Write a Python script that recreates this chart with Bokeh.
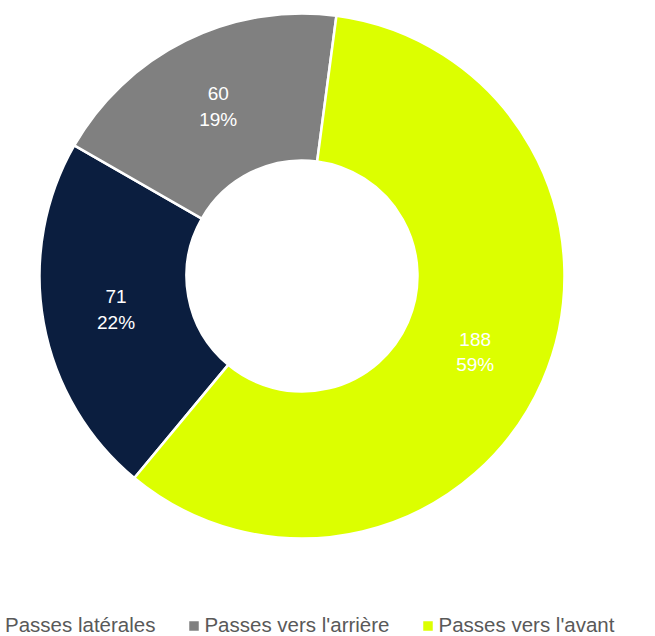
import math
import numpy as np
from bokeh.plotting import figure
from bokeh.models import Range1d, Legend, LegendItem, ColumnDataSource
from bokeh.core.properties import value
from bokeh.embed import file_html
from bokeh.resources import INLINE

# ---- data ----
categories = ["Passes latérales", "Passes vers l'arrière", "Passes vers l'avant"]
counts = [71, 60, 188]
colors = ["#0b1e3f", "#808080", "#dcff00"]

# ---- layout constants ----
W, H = 655, 636
cx, cy = 301.5, H - 275.5
r_in, r_out = 115.5, 262.5
start_cw_deg = 219.7  # clockwise from 12 o'clock

p = figure(width=W, height=H, x_range=Range1d(0, W), y_range=Range1d(0, H),
           output_backend="svg", toolbar_location=None, min_border=0)
p.axis.visible = False
p.grid.visible = False
p.outline_line_color = None
p.background_fill_color = "white"

total = float(sum(counts))
fr = np.array(counts) / total
cw_edges = start_cw_deg + np.concatenate([[0], np.cumsum(fr)]) * 360.0

items = []
lx, ly, lt = [], [], []
for i, (cat, n, col) in enumerate(zip(categories, counts, colors)):
    a0 = math.radians(90 - cw_edges[i])
    a1 = math.radians(90 - cw_edges[i + 1])
    src = ColumnDataSource(dict(x=[cx], y=[cy]))
    r = p.annular_wedge(x="x", y="y", inner_radius=r_in, outer_radius=r_out,
                        start_angle=a0, end_angle=a1, direction="clock",
                        fill_color=col, line_color="white", line_width=2.5,
                        source=src)
    items.append(LegendItem(label=cat, renderers=[r]))
    mid = math.radians(90 - (cw_edges[i] + cw_edges[i + 1]) / 2)
    rm = (r_in + r_out) / 2
    lx.append(cx + rm * math.cos(mid))
    ly.append(cy + rm * math.sin(mid))
    lt.append(f"{n}\n{round(100 * n / total)}%")

p.text(x=lx, y=ly, text=lt, text_align="center", text_baseline="middle",
       text_color="white", text_font=value("Liberation Sans"),
       text_font_size="19px", text_line_height=1.2)

legend = Legend(items=items, orientation="horizontal", location=(-13, -1),
                glyph_width=15, glyph_height=15, label_standoff=3, spacing=31,
                padding=0, margin=0, border_line_alpha=0, background_fill_alpha=0,
                label_text_font="Liberation Sans", label_text_font_size="20.5px",
                label_text_color="#595959")
p.add_layout(legend)

open("out.html", "w").write(file_html(p, INLINE))
